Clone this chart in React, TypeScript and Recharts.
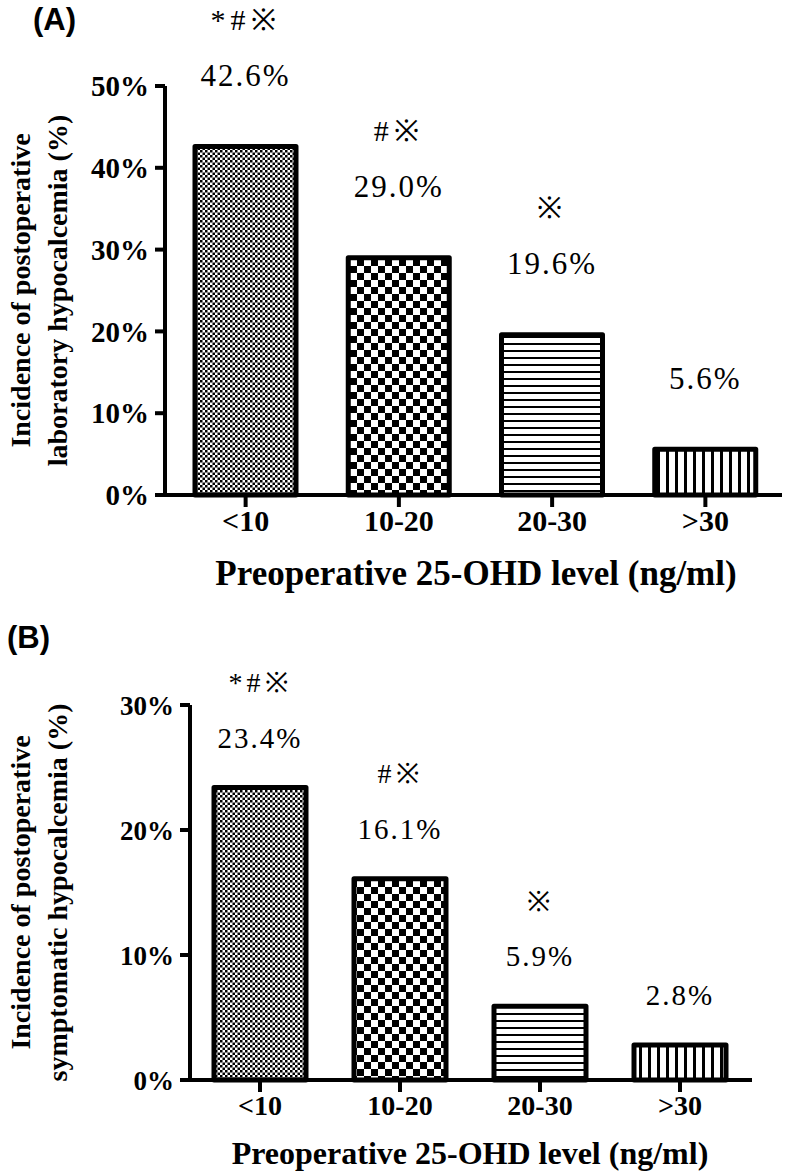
import React from 'react'
import { BarChart, Bar, XAxis, YAxis, Cell, LabelList } from 'recharts'

const categories = ['<10', '10-20', '20-30', '>30']
const laboratoryRates = [42.6, 29.0, 19.6, 5.6]
const symptomaticRates = [23.4, 16.1, 5.9, 2.8]
const laboratoryMarks = ['*#※', '#※', '※', '']
const symptomaticMarks = ['*#※', '#※', '※', '']
const laboratoryTicks = [0, 10, 20, 30, 40, 50]
const symptomaticTicks = [0, 10, 20, 30]
const xTitle = 'Preoperative 25-OHD level (ng/ml)'

const SERIF = '"Liberation Serif", "Times New Roman", serif'
const patterns = ['fine', 'coarse', 'hlines', 'vlines']

interface PanelProps {
  tag: string
  rates: number[]
  marks: string[]
  ticks: number[]
  yTitle: string[]
  top: number
  height: number
  margin: { top: number; right: number; left: number; bottom: number }
  yAxisWidth: number
  xAxisHeight: number
  xPadding: { left: number; right: number }
  barSize: number
  yTickFont: number
  xTickFont: number
  valueFont: number
  markFont: number
  markSpacing: number
  valueOffset: number
  markOffset: number
  tagX: number
  tagY: number
  xTitleX: number
  xTitleY: number
  xTitleFont: number
  yTitleFont: number
}

const BarShape = (props: any) => {
  const { x, y, width, height, fill } = props
  return (
    <rect x={x} y={y} width={width} height={height} fill={fill}
      stroke="#000" strokeWidth={5} strokeLinejoin="round" />
  )
}

function Panel(p: PanelProps) {
  const data = categories.map((c, i) => ({ name: c, rate: p.rates[i], mark: p.marks[i] }))
  const plotTop = p.margin.top
  const plotBottom = p.height - p.margin.bottom - p.xAxisHeight
  const midY = (plotTop + plotBottom) / 2

  const valueLabel = (lp: any) => {
    const cx = lp.x + lp.width / 2
    return (
      <text x={cx} y={lp.y - p.valueOffset} textAnchor="middle" dominantBaseline="central"
        fontFamily={SERIF} fontSize={p.valueFont} fill="#000" letterSpacing={2}>
        {Number(lp.value).toFixed(1)}%
      </text>
    )
  }
  const markLabel = (lp: any) => {
    if (!lp.value) return null
    const cx = lp.x + lp.width / 2
    return (
      <text x={cx} y={lp.y - p.markOffset} textAnchor="middle" dominantBaseline="central"
        fontFamily={SERIF} fontSize={p.markFont} fill="#000" letterSpacing={p.markSpacing}>
        {lp.value}
      </text>
    )
  }

  return (
    <div style={{ position: 'absolute', left: 0, top: p.top, width: 786, height: p.height }}>
      <svg width={786} height={p.height} style={{ position: 'absolute', left: 0, top: 0 }}>
        <defs>
          <pattern id="fine" width={5} height={5} patternUnits="userSpaceOnUse">
            <rect width={5} height={5} fill="#fff" />
            <rect width={2.5} height={2.5} fill="#000" />
            <rect x={2.5} y={2.5} width={2.5} height={2.5} fill="#000" />
          </pattern>
          <pattern id="coarse" width={14} height={14} patternUnits="userSpaceOnUse">
            <rect width={14} height={14} fill="#fff" />
            <rect width={7} height={7} fill="#000" />
            <rect x={7} y={7} width={7} height={7} fill="#000" />
          </pattern>
          <pattern id="hlines" width={10} height={7} patternUnits="userSpaceOnUse">
            <rect width={10} height={7} fill="#fff" />
            <rect width={10} height={2} fill="#000" />
          </pattern>
          <pattern id="vlines" width={9} height={10} patternUnits="userSpaceOnUse">
            <rect width={9} height={10} fill="#fff" />
            <rect width={3} height={10} fill="#000" />
          </pattern>
        </defs>
        <text x={p.tagX} y={p.tagY} fontFamily='"Liberation Sans", Arial, sans-serif'
          fontWeight="bold" fontSize={31} fill="#000">{p.tag}</text>
        {p.yTitle.map((line, i) => {
          const x = 20 + i * 37
          return (
            <text key={line} x={x} y={midY} transform={`rotate(-90 ${x} ${midY})`}
              textAnchor="middle" dominantBaseline="central" fontFamily={SERIF}
              fontWeight="bold" fontSize={p.yTitleFont} fill="#000">{line}</text>
          )
        })}
        <text x={p.xTitleX} y={p.xTitleY} textAnchor="middle" dominantBaseline="central"
          fontFamily={SERIF} fontWeight="bold" fontSize={p.xTitleFont} fill="#000">{xTitle}</text>
      </svg>
      <div style={{ position: 'absolute', left: 0, top: 0 }}>
        <BarChart width={786} height={p.height} data={data} margin={p.margin}>
          <XAxis dataKey="name" interval={0} height={p.xAxisHeight} padding={p.xPadding}
            axisLine={{ stroke: '#000', strokeWidth: 4 }} tickLine={{ stroke: '#000', strokeWidth: 4 }}
            tickSize={12} tickMargin={3}
            tick={{ fontFamily: SERIF, fontWeight: 'bold', fontSize: p.xTickFont, fill: '#000' }} />
          <YAxis width={p.yAxisWidth} domain={[0, p.ticks[p.ticks.length - 1]]} ticks={p.ticks}
            tickFormatter={(v: number) => `${v}%`}
            axisLine={{ stroke: '#000', strokeWidth: 4 }} tickLine={{ stroke: '#000', strokeWidth: 4 }}
            tickSize={10} tickMargin={6}
            tick={{ fontFamily: SERIF, fontWeight: 'bold', fontSize: p.yTickFont, fill: '#000' }} />
          <Bar dataKey="rate" barSize={p.barSize} isAnimationActive={false} shape={BarShape}>
            {data.map((d, i) => (
              <Cell key={d.name} fill={`url(#${patterns[i]})`} />
            ))}
            <LabelList dataKey="rate" content={valueLabel} />
            <LabelList dataKey="mark" content={markLabel} />
          </Bar>
        </BarChart>
      </div>
    </div>
  )
}

export default function App() {
  return (
    <div style={{ position: 'absolute', left: 0, top: 0, width: 786, height: 1172, background: '#fff' }}>
      <Panel tag="(A)" rates={laboratoryRates} marks={laboratoryMarks} ticks={laboratoryTicks}
        yTitle={['Incidence of postoperative', 'laboratory hypocalcemia (%)']}
        top={0} height={600} margin={{ top: 86, right: 4, left: 0, bottom: 0 }}
        yAxisWidth={165} xAxisHeight={105} xPadding={{ left: 4, right: 0 }} barSize={101}
        yTickFont={29} xTickFont={30} valueFont={31} markFont={30} markSpacing={5}
        valueOffset={71} markOffset={127}
        tagX={33} tagY={30} xTitleX={476} xTitleY={573} xTitleFont={35} yTitleFont={28} />
      <Panel tag="(B)" rates={symptomaticRates} marks={symptomaticMarks} ticks={symptomaticTicks}
        yTitle={['Incidence of postoperative', 'symptomatic hypocalcemia (%)']}
        top={600} height={572} margin={{ top: 105, right: 34, left: 0, bottom: 0 }}
        yAxisWidth={190} xAxisHeight={92} xPadding={{ left: 0, right: 2 }} barSize={92}
        yTickFont={27} xTickFont={28} valueFont={29} markFont={28} markSpacing={4}
        valueOffset={50} markOffset={105}
        tagX={7} tagY={48} xTitleX={470} xTitleY={553} xTitleFont={32} yTitleFont={28} />
    </div>
  )
}
